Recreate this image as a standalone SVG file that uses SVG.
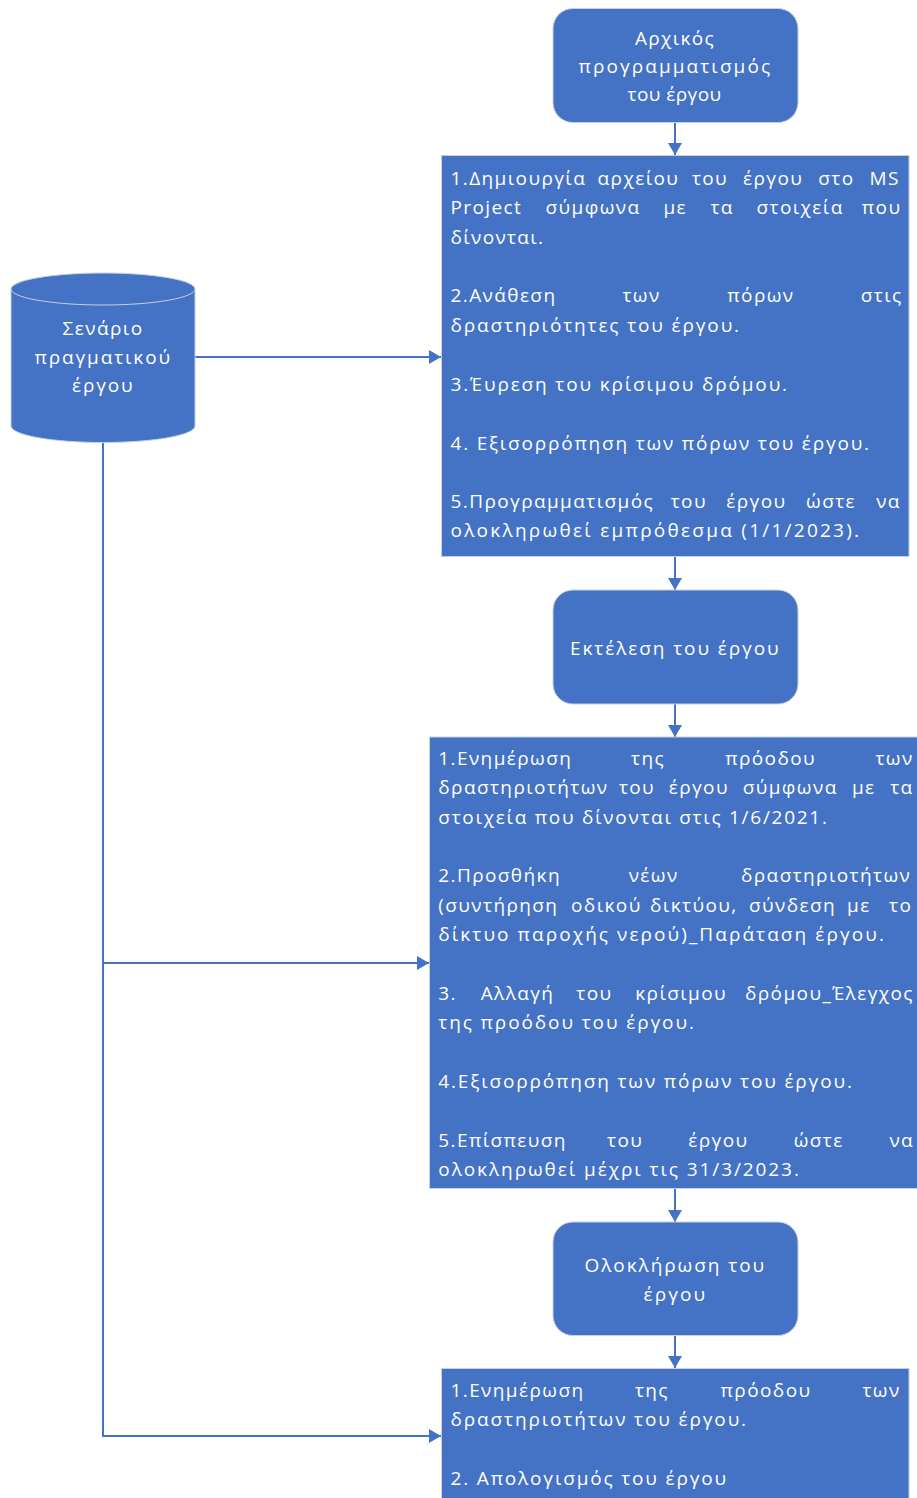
<svg xmlns="http://www.w3.org/2000/svg" width="917" height="1498" viewBox="0 0 917 1498">
  <style>
    .shape { fill: #4472C4; stroke: #c6d0e2; stroke-width: 1; }
    .conn { fill: none; stroke: #4472C4; stroke-width: 2; }
    .t { font-family: "Open Sans", "Noto Sans", "DejaVu Sans", sans-serif; font-size: 19px; letter-spacing: 1.4px; fill: #ffffff; }
    .c { text-anchor: middle; }
  </style>
  <defs>
    <marker id="arrow" viewBox="0 0 12 14" refX="12" refY="7" markerWidth="12" markerHeight="14" markerUnits="userSpaceOnUse" orient="auto">
      <path d="M0,0 L12,7 L0,14 Z" fill="#4472C4"/>
    </marker>
  </defs>
  <rect width="917" height="1498" fill="#ffffff"/>

  <!-- connectors -->
  <g id="connectors">
    <path class="conn" d="M675,123 V155" marker-end="url(#arrow)"/>
    <path class="conn" d="M675,557 V590" marker-end="url(#arrow)"/>
    <path class="conn" d="M675,704 V737" marker-end="url(#arrow)"/>
    <path class="conn" d="M675,1189 V1222" marker-end="url(#arrow)"/>
    <path class="conn" d="M675,1336 V1368" marker-end="url(#arrow)"/>
    <path class="conn" d="M195,357 H441" marker-end="url(#arrow)"/>
    <path class="conn" d="M103,443 V1436 H441" marker-end="url(#arrow)"/>
    <path class="conn" d="M103,963 H429" marker-end="url(#arrow)"/>
  </g>

  <!-- start: initial planning -->
  <g id="initial-planning">
    <rect class="shape" x="553" y="8.5" width="245" height="114" rx="20" ry="20"/>
    <text class="t c" x="675" y="45" textLength="80">Αρχικός</text>
    <text class="t c" x="675" y="73" textLength="193">προγραμματισμός</text>
    <text class="t c" x="675" y="101" textLength="95">του έργου</text>
  </g>

  <!-- data source: real project scenario -->
  <g id="scenario">
    <path class="shape" d="M11,289 V426 A92,16.5 0 0 0 195,426 V289 Z"/>
    <ellipse class="shape" cx="103" cy="289" rx="92" ry="16"/>
    <text class="t c" x="103" y="335" textLength="81">Σενάριο</text>
    <text class="t c" x="103" y="364" textLength="137">πραγματικού</text>
    <text class="t c" x="103" y="392" textLength="62">έργου</text>
  </g>

  <!-- planning tasks -->
  <g id="planning-tasks">
    <rect class="shape" x="441.5" y="155.5" width="467.5" height="401"/>
    <text class="t" y="185"><tspan x="450.5">1.Δημιουργία</tspan><tspan x="597.6">αρχείου</tspan><tspan x="691.9">του</tspan><tspan x="743">έργου</tspan><tspan x="818.3">στο</tspan><tspan x="869.6">MS</tspan></text>
    <text class="t" y="214.3"><tspan x="450.5">Project</tspan><tspan x="545.5">σύμφωνα</tspan><tspan x="663.4">με</tspan><tspan x="710.4">τα</tspan><tspan x="756.5">στοιχεία</tspan><tspan x="861.8">που</tspan></text>
    <text class="t" x="450.5" y="243.6" textLength="94">δίνονται.</text>
    <text class="t" y="302.2"><tspan x="450.5">2.Ανάθεση</tspan><tspan x="622.4">των</tspan><tspan x="727.3">πόρων</tspan><tspan x="860.8">στις</tspan></text>
    <text class="t" x="450.5" y="331.5" textLength="290">δραστηριότητες του έργου.</text>
    <text class="t" x="450.5" y="390.5" textLength="338">3.Έυρεση του κρίσιμου δρόμου.</text>
    <text class="t" x="450.5" y="449.5" textLength="420">4. Εξισορρόπηση των πόρων του έργου.</text>
    <text class="t" y="508.2"><tspan x="450.5">5.Προγραμματισμός</tspan><tspan x="670.7">του</tspan><tspan x="726.3">έργου</tspan><tspan x="806.1">ώστε</tspan><tspan x="876.2">να</tspan></text>
    <text class="t" x="450.5" y="537.3" textLength="410">ολοκληρωθεί εμπρόθεσμα (1/1/2023).</text>
  </g>

  <!-- execution -->
  <g id="execution">
    <rect class="shape" x="553" y="590" width="245" height="114" rx="20" ry="20"/>
    <text class="t c" x="675" y="655" textLength="210">Εκτέλεση του έργου</text>
  </g>

  <!-- execution tasks -->
  <g id="execution-tasks">
    <rect class="shape" x="429.5" y="737" width="495" height="451.5"/>
    <text class="t" y="765"><tspan x="438.3">1.Ενημέρωση</tspan><tspan x="631.1">της</tspan><tspan x="725.2">πρόοδου</tspan><tspan x="875.4">των</tspan></text>
    <text class="t" y="794.3"><tspan x="438.3">δραστηριοτήτων</tspan><tspan x="618.9">του</tspan><tspan x="668.7">έργου</tspan><tspan x="742.7">σύμφωνα</tspan><tspan x="851.9">με</tspan><tspan x="890.2">τα</tspan></text>
    <text class="t" x="438.3" y="823.6" textLength="390">στοιχεία που δίνονται στις 1/6/2021.</text>
    <text class="t" y="882.2"><tspan x="438.3">2.Προσθήκη</tspan><tspan x="628.7">νέων</tspan><tspan x="741">δραστηριοτήτων</tspan></text>
    <text class="t" y="911.5"><tspan x="438.3">(συντήρηση</tspan><tspan x="571">οδικού</tspan><tspan x="650">δικτύου,</tspan><tspan x="749">σύνδεση</tspan><tspan x="847">με</tspan><tspan x="889">το</tspan></text>
    <text class="t" x="438.3" y="940.8" textLength="447">δίκτυο παροχής νερού)_Παράταση έργου.</text>
    <text class="t" y="1000"><tspan x="438.3">3.</tspan><tspan x="480.7">Αλλαγή</tspan><tspan x="576.3">του</tspan><tspan x="635.2">κρίσιμου</tspan><tspan x="745">δρόμου_Έλεγχος</tspan></text>
    <text class="t" x="438.3" y="1029.3" textLength="257">της προόδου του έργου.</text>
    <text class="t" x="438.3" y="1088" textLength="415">4.Εξισορρόπηση των πόρων του έργου.</text>
    <text class="t" y="1146.6"><tspan x="438.3">5.Επίσπευση</tspan><tspan x="607.1">του</tspan><tspan x="688.3">έργου</tspan><tspan x="793.7">ώστε</tspan><tspan x="889.4">να</tspan></text>
    <text class="t" x="438.3" y="1175.9" textLength="362">ολοκληρωθεί μέχρι τις 31/3/2023.</text>
  </g>

  <!-- completion -->
  <g id="completion">
    <rect class="shape" x="553" y="1222" width="245" height="113.5" rx="20" ry="20"/>
    <text class="t c" x="675" y="1272" textLength="181">Ολοκλήρωση του</text>
    <text class="t c" x="675" y="1301" textLength="63">έργου</text>
  </g>

  <!-- completion tasks -->
  <g id="completion-tasks">
    <rect class="shape" x="441.5" y="1368.5" width="467.5" height="140"/>
    <text class="t" y="1397"><tspan x="450.5">1.Ενημέρωση</tspan><tspan x="634.9">της</tspan><tspan x="720.6">πρόοδου</tspan><tspan x="862.4">των</tspan></text>
    <text class="t" x="450.5" y="1426.3" textLength="297">δραστηριοτήτων του έργου.</text>
    <text class="t" x="450.5" y="1485" textLength="277">2. Απολογισμός του έργου</text>
  </g>
</svg>
